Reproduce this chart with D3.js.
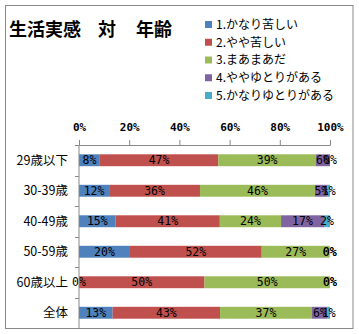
<!DOCTYPE html>
<html><head><meta charset="utf-8">
<script src="https://cdn.jsdelivr.net/npm/d3@7"></script>
<style>html,body{margin:0;padding:0;background:#fff;}svg{display:block;}</style>
</head><body>
<svg id="c" width="359" height="334"></svg>
<script>
const categories = ["29歳以下","30-39歳","40-49歳","50-59歳","60歳以上","全体"];
const seriesNames = ["1.かなり苦しい","2.やや苦しい","3.まあまあだ","4.ややゆとりがある","5.かなりゆとりがある"];
const s1 = [8.3, 12.0, 14.6, 20.3, 0, 13.4];
const s2 = [47.2, 36.2, 41.5, 52.5, 50, 42.8];
const s3 = [38.9, 45.8, 24.4, 27.1, 50, 36.6];
const s4 = [5.6, 5.1, 17.1, 0, 0, 6.3];
const s5 = [0, 0.9, 2.4, 0, 0, 0.9];
const colors = ["#4F81BD","#C0504D","#9BBB59","#8064A2","#4BACC6"];
const tickValues = [0, 0.2, 0.4, 0.6, 0.8, 1.0];
const title = ["生活実感","対","年齢"];

const series = [s1,s2,s3,s4,s5];
const svg = d3.select("#c");
const numFont = "'DejaVu Sans Mono', monospace";
const jpFont = "'Noto Sans CJK JP', sans-serif";

svg.append("rect").attr("x",5.5).attr("y",5.5).attr("width",347.5).attr("height",323)
  .attr("fill","#fff").attr("stroke","#888").attr("stroke-width",1);

// title
const tx = [9, 98, 136];
svg.append("g").selectAll("text").data(title).join("text")
  .attr("x",(d,i)=>tx[i]).attr("y",36)
  .attr("font-family",jpFont).attr("font-weight","bold").attr("font-size",18)
  .attr("fill","#000").text(d=>d);

// legend
const lg = svg.append("g");
const ly = d3.scalePoint().domain(seriesNames).range([24.5, 95.5]);
seriesNames.forEach((n,i)=>{
  lg.append("rect").attr("x",205).attr("y",ly(n)-3.5).attr("width",7).attr("height",7).attr("fill",colors[i]);
  lg.append("text").attr("x",216).attr("y",ly(n)).attr("dy","0.36em")
    .attr("font-family",jpFont).attr("font-size",12).attr("fill","#000").text(n);
});

const x = d3.scaleLinear().domain([0,1]).range([79,330]);
const y = d3.scaleBand().domain(categories).range([145,328]).paddingInner(0.61).paddingOuter(0.305);

// stacked data
const rows = categories.map((c,i)=>{const o={cat:c}; series.forEach((s,j)=>o["k"+j]=s[i]/100); return o;});
const stack = d3.stack().keys(series.map((s,j)=>"k"+j));
const stacked = stack(rows);

const g = svg.append("g");
stacked.forEach((layer,j)=>{
  g.append("g").selectAll("rect").data(layer).join("rect")
    .attr("x",d=>x(d[0])).attr("width",d=>x(d[1])-x(d[0]))
    .attr("y",d=>y(d.data.cat)).attr("height",y.bandwidth())
    .attr("fill",colors[j]);
});
stacked.forEach((layer,j)=>{
  g.append("g").selectAll("text").data(layer).join("text")
    .attr("x",d=>(x(d[0])+x(d[1]))/2).attr("y",d=>y(d.data.cat)+y.bandwidth()/2)
    .attr("dy","0.36em").attr("text-anchor","middle")
    .attr("font-family",numFont).attr("font-size",11.5).attr("fill","#000")
    .text(d=>Math.round((d[1]-d[0])*100)+"%");
});

// axes
const xa = svg.append("g").attr("transform","translate(0,145)")
  .call(d3.axisTop(x).tickValues(tickValues).tickFormat(d3.format(".0%")).tickSize(5).tickPadding(9));
xa.select(".domain").attr("stroke","#888");
xa.selectAll(".tick line").attr("stroke","#888");
xa.selectAll(".tick text").attr("font-family",numFont).attr("font-weight","bold").attr("font-size",11).attr("fill","#000");

const yBound = d3.scaleLinear().domain([0,categories.length]).range([145,328]);
const ya = svg.append("g").attr("transform","translate(79,0)");
ya.append("line").attr("x1",0).attr("x2",0).attr("y1",145).attr("y2",328).attr("stroke","#888");
ya.selectAll("line.t").data(d3.range(categories.length+1)).join("line").attr("class","t")
  .attr("x1",-4).attr("x2",0).attr("y1",d=>Math.round(yBound(d))+0.5).attr("y2",d=>Math.round(yBound(d))+0.5).attr("stroke","#888");
ya.selectAll("text").data(categories).join("text")
  .attr("x",-11).attr("y",d=>y(d)+y.bandwidth()/2).attr("dy","0.36em").attr("text-anchor","end")
  .attr("font-family",jpFont).attr("font-size",12.5).attr("fill","#000").text(d=>d);
</script>
</body></html>
